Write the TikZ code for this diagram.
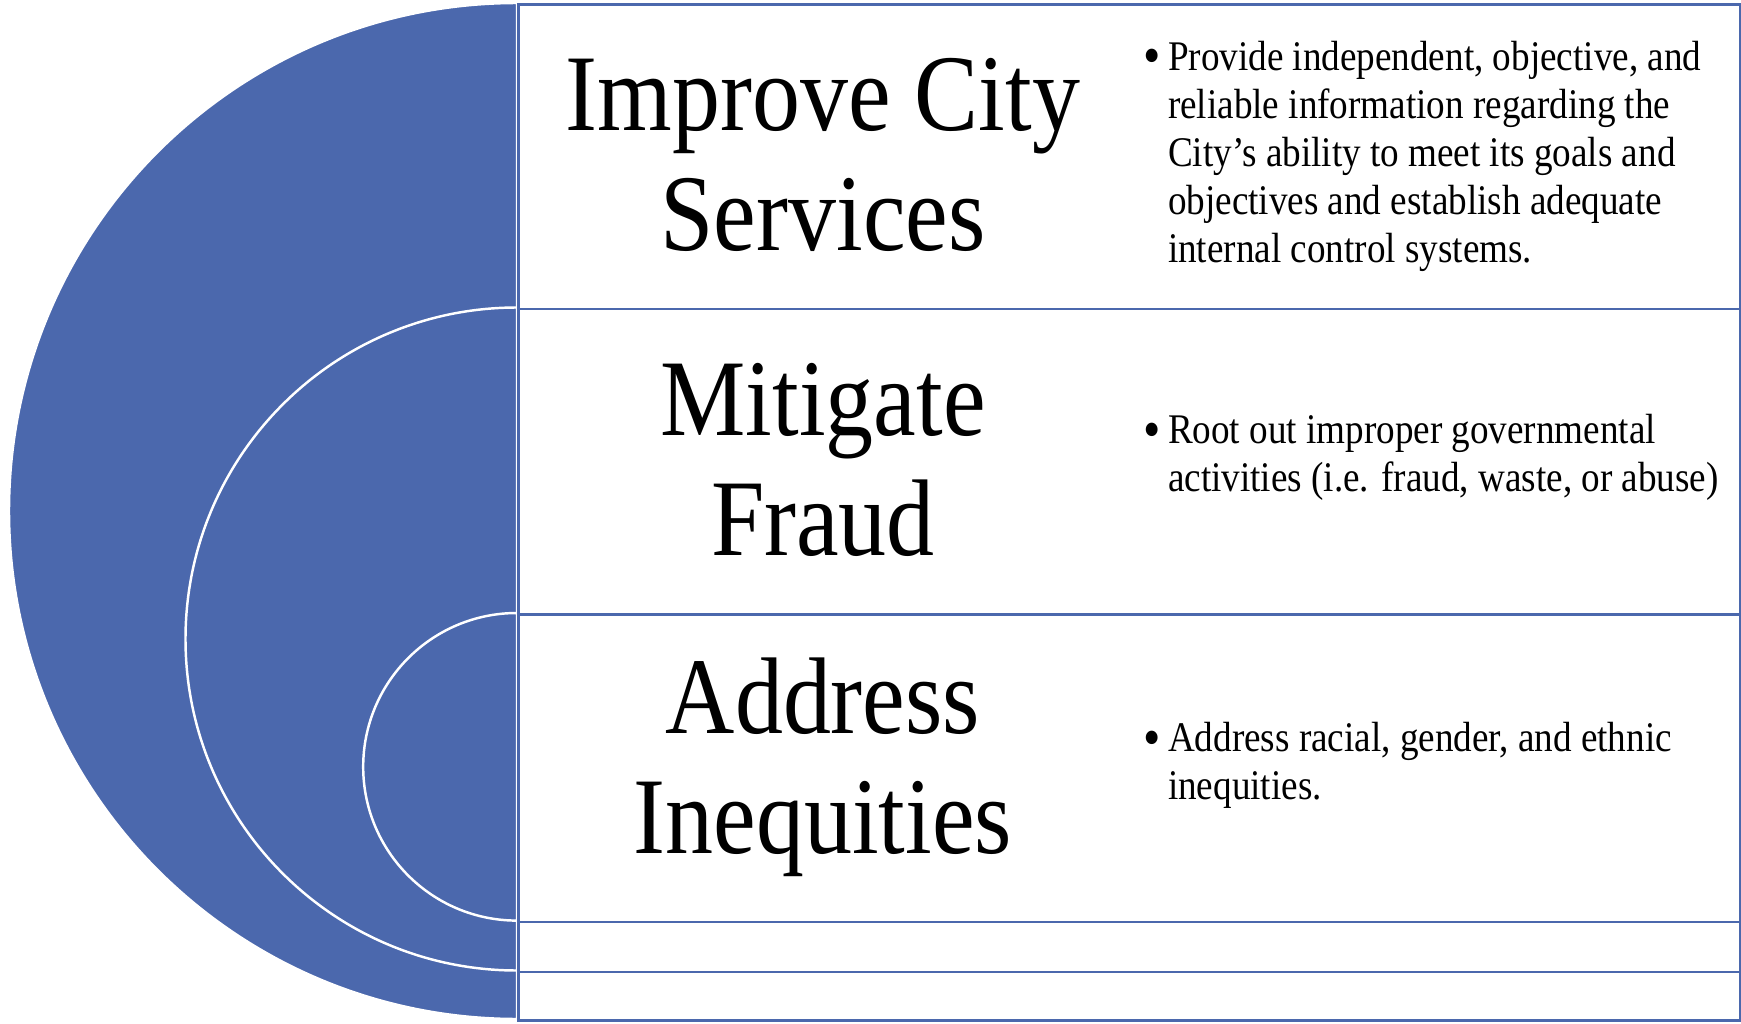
\documentclass[tikz,border=0pt]{standalone}
\usepackage{fontspec}
\setmainfont[FakeStretch=0.88]{Liberation Serif}
\definecolor{disc}{RGB}{75,104,173}
\tikzset{
    ring/.style = {fill=disc, draw=white, line width=0.7pt},
    band/.style = {draw=disc, line width=0.8pt, fill=white, inner sep=0, anchor=north west, minimum width=12.21cm},
    goal/.style = {font=\fontsize{31}{34}\selectfont, align=center},
    point/.style = {font=\fontsize{12}{13.7}\selectfont, anchor=west, inner sep=0}
}
\newcommand{\bul}[1]{\begin{tabular}{@{}l@{\hspace{2pt}}l@{}}\raisebox{-1.3pt}{\fontsize{16}{13.7}\selectfont\textbullet} & #1\end{tabular}}

\begin{document}
\begin{tikzpicture}[x=0.01cm, y=0.01cm]
    \useasboundingbox (0,0) rectangle (1741,1023);

    % half discs
    \filldraw[ring] (517,1020) arc[start angle=90, end angle=270, radius=508] -- cycle;
    \filldraw[ring] (517,715.5) arc[start angle=90, end angle=270, radius=331.5] -- cycle;
    \filldraw[ring] (517,410) arc[start angle=90, end angle=270, radius=153.8] -- cycle;

    % bands
    \node[band, minimum height=3.045cm] (r1) at (517,1020) {};
    \node[band, minimum height=3.055cm] (r2) at (517,715.5) {};
    \node[band, minimum height=3.075cm] (r3) at (517,410) {};
    \node[band, minimum height=0.50cm] (r4) at (517,102.5) {};
    \node[band, minimum height=0.485cm] (r5) at (517,52.5) {};

    % goals
    \node[goal] (g1) at (823,868) {Improve City\\Services};
    \node[goal] (g2) at (823,563) {Mitigate\\Fraud};
    \node[goal] (g3) at (823,256) {Address\\Inequities};

    % points
    \node[point] (p1) at (1143,866) {\bul{Provide independent, objective, and\\
        & reliable information regarding the\\
        & City’s ability to meet its goals and\\
        & objectives and establish adequate\\
        & internal control systems.}};
    \node[point] (p2) at (1143,565) {\bul{Root out improper governmental\\
        & activities (i.e. fraud, waste, or abuse)}};
    \node[point] (p3) at (1143,257) {\bul{Address racial, gender, and ethnic\\
        & inequities.}};
\end{tikzpicture}
\end{document}
